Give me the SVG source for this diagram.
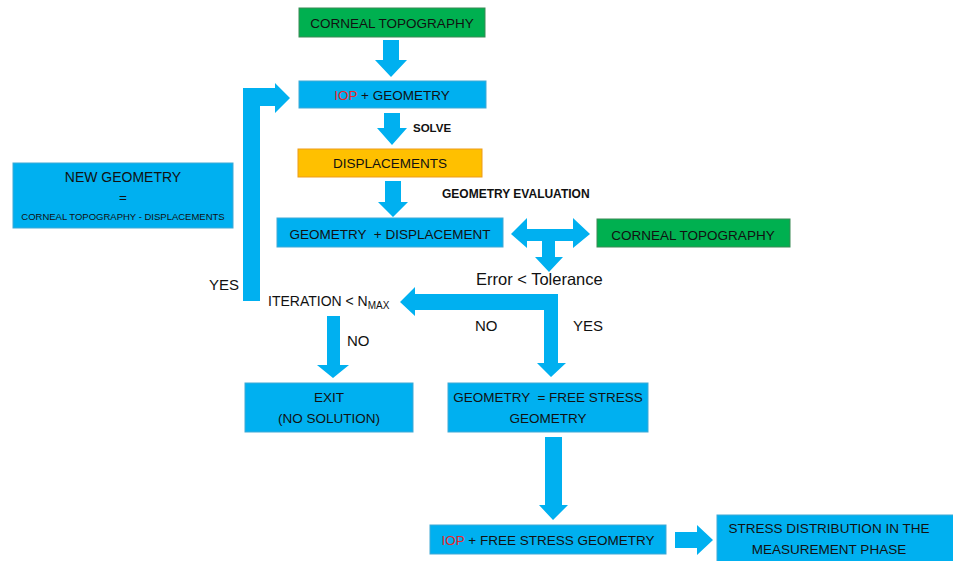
<svg xmlns="http://www.w3.org/2000/svg" width="953" height="561" viewBox="0 0 953 561">
<style>
.bg{fill:#ffffff}
.blue{fill:#00B0F0;stroke:#3FA9D6;stroke-width:1}
.green{fill:#00B050;stroke:#3A8A55;stroke-width:1}
.orange{fill:#FFC000;stroke:#ED9B1A;stroke-width:1}
.arr{fill:#00B0F0}
text{font-family:"Liberation Sans",Arial,sans-serif;fill:#111111}
.t{font-size:13.5px;text-anchor:middle}
.lb{font-size:11.5px;font-weight:bold}
.lab{font-size:15px}
.red{fill:#E8262A}
</style>
<rect class="bg" x="0" y="0" width="953" height="561"/>
<g id="connectors">
<polygon class="arr" points="383,40 399,40 399,60 407,60 391,77 375,60 383,60"/>
<polygon class="arr" points="384,113 400,113 400,128 407,128 392,145 377,128 384,128"/>
<polygon class="arr" points="385,181 401,181 401,202 408,202 393,217 378,202 385,202"/>
<polygon class="arr" points="511,234 527,218 527,229 573,229 573,218 590,234 573,248 573,241 555,241 555,257 563,257 549,272 535,257 542,257 542,241 527,241 527,248"/>
<polygon class="arr" points="400,302 415,287 415,294 558,294 558,363 566,363 551,377 537,363 544,363 544,310 415,310 415,316"/>
<polygon class="arr" points="327,316 340,316 340,365 349,365 333,378 317,365 327,365"/>
<polygon class="arr" points="545,437 562,437 562,505 568,505 553,520 539,505 545,505"/>
<polygon class="arr" points="675,532 697,532 697,525 713,540 697,555 697,548 675,548"/>
<polygon class="arr" points="243,301 243,88 275,88 275,83 290,98 275,113 275,106 260,106 260,301"/>
</g>
<g id="corneal-top">
<rect class="green" x="299" y="8" width="186" height="29"/>
<text class="t" x="392" y="28">CORNEAL TOPOGRAPHY</text>
</g>
<g id="iop-geometry">
<rect class="blue" x="299" y="81" width="187" height="27"/>
<text class="t" x="392" y="100"><tspan class="red">IOP</tspan> + GEOMETRY</text>
</g>
<g id="solve-label"><text class="lb" x="413" y="132">SOLVE</text></g>
<g id="displacements">
<rect class="orange" x="298" y="149" width="184" height="28"/>
<text class="t" x="390" y="168">DISPLACEMENTS</text>
</g>
<g id="geom-eval-label"><text class="lb" x="442" y="198" style="font-size:12px">GEOMETRY EVALUATION</text></g>
<g id="geometry-displacement">
<rect class="blue" x="277" y="218" width="226" height="29"/>
<text class="t" x="390" y="239" xml:space="preserve">GEOMETRY  + DISPLACEMENT</text>
</g>
<g id="corneal-right">
<rect class="green" x="597" y="219" width="193" height="28"/>
<text class="t" x="693" y="240">CORNEAL TOPOGRAPHY</text>
</g>
<g id="error-tolerance"><text x="476" y="285" style="font-size:16.5px">Error &lt; Tolerance</text></g>
<g id="new-geometry">
<rect class="blue" x="13" y="163" width="220" height="65"/>
<text class="t" x="123" y="182" style="font-size:14px">NEW GEOMETRY</text>
<text class="t" x="123" y="202">=</text>
<text x="123" y="220" style="font-size:9.5px;text-anchor:middle">CORNEAL TOPOGRAPHY - DISPLACEMENTS</text>
</g>
<g id="iteration">
<text x="268" y="306" style="font-size:14px">ITERATION &lt; N<tspan dy="3" style="font-size:10px">MAX</tspan></text>
</g>
<g id="labels">
<text class="lab" x="209" y="290">YES</text>
<text class="lab" x="475" y="331">NO</text>
<text class="lab" x="573" y="331">YES</text>
<text class="lab" x="347" y="346">NO</text>
</g>
<g id="exit">
<rect class="blue" x="245" y="383" width="168" height="49"/>
<text class="t" x="329" y="402">EXIT</text>
<text class="t" x="329" y="423">(NO SOLUTION)</text>
</g>
<g id="free-stress">
<rect class="blue" x="448" y="383" width="200" height="49"/>
<text class="t" x="548" y="402" xml:space="preserve">GEOMETRY  = FREE STRESS</text>
<text class="t" x="548" y="423">GEOMETRY</text>
</g>
<g id="iop-free-stress">
<rect class="blue" x="430" y="525" width="236" height="29"/>
<text class="t" x="548" y="545"><tspan class="red">IOP</tspan> + FREE STRESS GEOMETRY</text>
</g>
<g id="stress-distribution">
<rect class="blue" x="717" y="515" width="240" height="50"/>
<text class="t" x="829" y="533">STRESS DISTRIBUTION IN THE</text>
<text class="t" x="829" y="554">MEASUREMENT PHASE</text>
</g>
</svg>
